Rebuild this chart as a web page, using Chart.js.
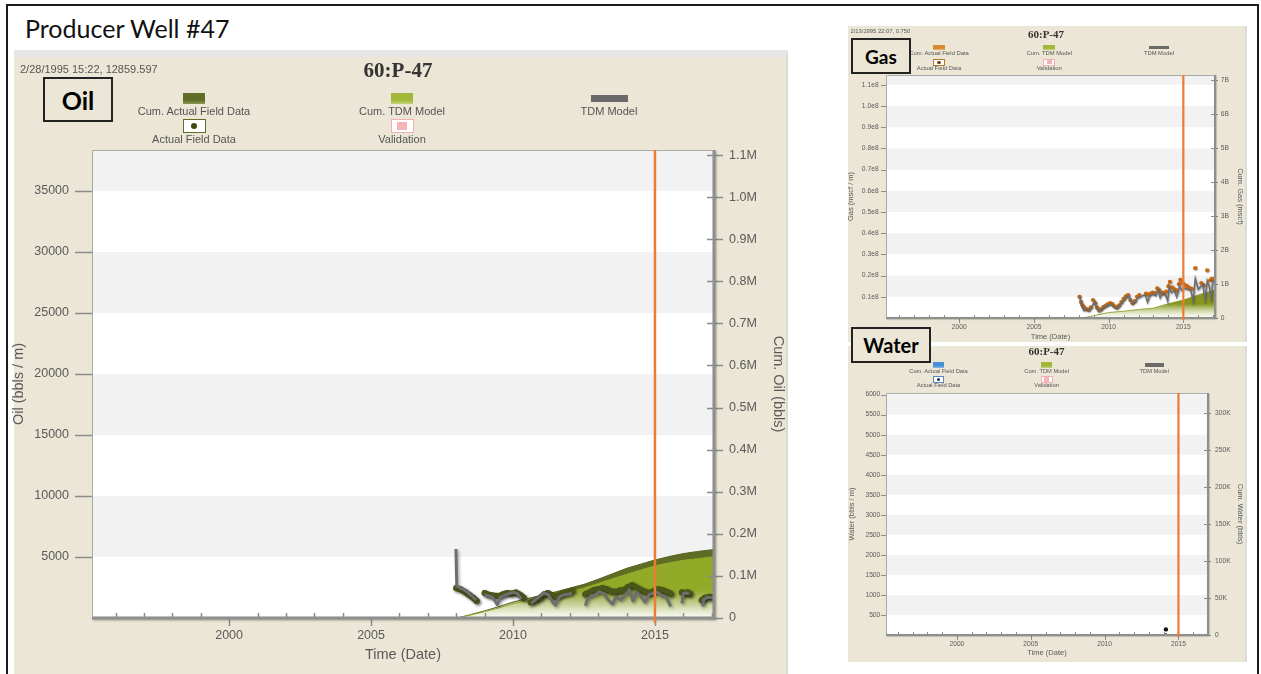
<!DOCTYPE html>
<html>
<head>
<meta charset="utf-8">
<title>Producer Well #47</title>
<script src="https://cdn.jsdelivr.net/npm/chart.js@4.4.1/dist/chart.umd.min.js"></script>
<style>
  html, body { margin: 0; padding: 0; background: #fff; }
  body { position: relative; width: 1261px; height: 674px; overflow: hidden; font-family: "Liberation Sans", Arial, sans-serif; }
  .abs { position: absolute; }
  #frame { left: 6px; top: 4px; width: 1253px; height: 720px; border: 2px solid #1c1c1c; box-sizing: border-box; }
  #pageTitle { left: 25px; top: 11px; font: 25px/34px Lato, "Open Sans", sans-serif; color: #111; white-space: nowrap; }
  .panel { background: #ebe6d5; }
  #oilPanel { left: 14px; top: 50px; width: 772px; height: 640px; border-top: 7px solid #e6e6e6; border-right: 2px solid #d9d9d9; }
  #gasPanel { left: 848px; top: 26px; width: 397px; height: 316px; border-right: 2px solid #dcdcdc; }
  #waterPanel { left: 848px; top: 346px; width: 397px; height: 316px; border-right: 2px solid #dcdcdc; }
  .tag { box-sizing: border-box; border: 2px solid #222; background: #ebe6d5; font-family: Lato, "Open Sans", sans-serif; font-weight: 700; color: #000; display: flex; align-items: center; justify-content: center; }
  .lg-text { white-space: nowrap; color: #555; transform: translate(-50%, -50%); line-height: 1; }
  .stamp { white-space: nowrap; color: #555; line-height: 1; transform: translateY(-50%); }
  .ptitle { white-space: nowrap; color: #333; font-family: "Liberation Serif", "DejaVu Serif", serif; font-weight: 700; transform: translate(-50%, -50%); line-height: 1; }
</style>
</head>
<body>
<div id="frame" class="abs"></div>
<div id="pageTitle" class="abs">Producer Well #47</div>
<div id="oilPanel" class="abs panel"></div>
<div id="gasPanel" class="abs panel"></div>
<div id="waterPanel" class="abs panel"></div>
<canvas id="oilChart" class="abs" width="782" height="622" style="left:8px;top:52px;width:782px;height:622px"></canvas>
<canvas id="gasChart" class="abs" width="401" height="317" style="left:846px;top:26px;width:401px;height:317px"></canvas>
<canvas id="waterChart" class="abs" width="401" height="316" style="left:846px;top:346px;width:401px;height:316px"></canvas>

<script>
// ---------- shared time axis ----------
const yearTicks = [2000, 2005, 2010, 2015];
const yearTickLabels = ['2000', '2005', '2010', '2015'];
const forecastStart = 2015.0;

// ---------- Oil: monthly rate (bbls / m) ----------
const oilActualDates = [2008.00, 2008.15, 2008.30, 2008.45, 2008.60, 2008.72, 2008.85,
  2009.00, 2009.15, 2009.30, 2009.50, 2009.65, 2009.80, 2009.95, 2010.10, 2010.25, 2010.38, 2010.50,
  2010.62, 2010.80, 2010.95, 2011.10, 2011.22, 2011.38, 2011.50, 2011.65, 2011.80, 2011.95, 2012.08, 2012.30,
  2012.55, 2012.70, 2012.85, 2013.00, 2013.15, 2013.30, 2013.45, 2013.60, 2013.75, 2013.90, 2014.05, 2014.20,
  2014.35, 2014.50, 2014.65, 2014.80, 2014.95, 2015.10, 2015.25, 2015.40, 2015.55, 2015.75,
  2015.95, 2016.05, 2016.15, 2016.22, 2016.45, 2016.65, 2016.75, 2016.90, 2017.05];
const oilActualRate = [2450, 2350, 2150, 1900, 1650, 1400, null,
  2050, 1900, 1850, 1800, 1950, 2050, 2000, 2100, 1900, 1650, null,
  1300, 1450, 1650, 1950, 2050, 1850, 1750, 1900, 2050, 2150, 2250, null,
  1950, 2100, 2300, 2350, 2450, 2350, 2200, 2150, 2250, 2300, 2550, 2700,
  2500, 2300, 2150, 2050, 2200, 2350, 2300, 2150, 2000, null,
  2100, 2050, 2100, 2000, null, 1450, 1650, 1750, 1700];

const oilModelDates = [2007.99, 2008.02, 2008.15, 2008.28, 2008.40, 2008.55, 2008.70, 2008.85,
  2009.00, 2009.15, 2009.30, 2009.45, 2009.55, 2009.70, 2009.85, 2010.00, 2010.15, 2010.30, 2010.50,
  2010.65, 2010.80, 2010.95, 2011.10, 2011.25, 2011.40, 2011.50, 2011.62, 2011.80, 2011.95, 2012.08, 2012.30,
  2012.55, 2012.62, 2012.75, 2012.90, 2013.05, 2013.20, 2013.35, 2013.50, 2013.62, 2013.80, 2013.95,
  2014.10, 2014.22, 2014.35, 2014.50, 2014.65, 2014.78, 2014.95, 2015.10, 2015.25, 2015.40, 2015.55, 2015.75,
  2015.95, 2016.00, 2016.10, 2016.20, 2016.45, 2016.68, 2016.72, 2016.85, 2017.05];
const oilModelRate = [5650, 2600, 2450, 2300, 2100, 1800, 1450, null,
  1900, 1800, 1650, 1100, 1700, 1850, 2000, 2100, 2000, 1550, null,
  1200, 1500, 1800, 2050, 1900, 1300, 1050, 1700, 1900, 1950, 2000, null,
  1000, 1550, 1800, 1900, 2150, 2000, 1500, 1150, 1700, 1500, 1900,
  2300, 1400, 2150, 1800, 1300, 1900, 2050, 2100, 1800, 1700, 950, null,
  1200, 2000, 2050, 1950, null, 950, 1500, 1700, 1650];

// ---------- Oil: cumulative (bbls) ----------
const oilCumDates = [2008.05, 2008.5, 2009, 2009.5, 2010, 2010.5, 2011, 2011.5, 2012, 2012.5,
  2013, 2013.5, 2014, 2014.5, 2015, 2015.5, 2016, 2016.5, 2017.1];
const oilCumActual = [0, 8000, 17000, 27000, 38000, 46000, 54000, 62000, 71000, 80000,
  92000, 105000, 118000, 128000, 138000, 146000, 153000, 158000, 163000];
const oilCumModel = [0, 7000, 15000, 24000, 34000, 41000, 48000, 55000, 63000, 71000,
  82000, 93000, 104000, 114000, 124000, 131000, 137000, 141000, 146000];

const oilRateTicks = [5000, 10000, 15000, 20000, 25000, 30000, 35000];
const oilRateTickLabels = ['5000', '10000', '15000', '20000', '25000', '30000', '35000'];
const oilCumTicks = [0, 100000, 200000, 300000, 400000, 500000, 600000, 700000, 800000, 900000, 1000000, 1100000];
const oilCumTickLabels = ['0', '0.1M', '0.2M', '0.3M', '0.4M', '0.5M', '0.6M', '0.7M', '0.8M', '0.9M', '1.0M', '1.1M'];

// ---------- Gas: monthly rate (mscf / m) ----------
const gasActualDates = [2008.05, 2008.15, 2008.25, 2008.35, 2008.50, 2008.65, 2008.80, 2008.95,
  2009.10, 2009.22, 2009.35, 2009.50, 2009.65, 2009.80, 2009.95, 2010.10, 2010.25, 2010.40, 2010.55,
  2010.70, 2010.85, 2011.00, 2011.15, 2011.30, 2011.45, 2011.60, 2011.75, 2011.90, 2012.05,
  2012.50, 2012.65, 2012.80, 2012.95, 2013.10, 2013.25, 2013.40, 2013.55, 2013.70, 2013.85,
  2014.00, 2014.10, 2014.25, 2014.40, 2014.55, 2014.70, 2014.80, 2014.95, 2015.10, 2015.25,
  2015.40, 2015.55, 2015.80, 2016.20, 2016.35, 2016.60, 2016.80, 2016.90, 2017.00];
const gasActualRate = [1.00e7, 0.75e7, 0.60e7, 0.50e7, 0.42e7, 0.38e7, 0.50e7, 0.85e7,
  0.70e7, 0.50e7, 0.38e7, 0.42e7, 0.52e7, 0.58e7, 0.65e7, 0.70e7, 0.66e7, 0.55e7, 0.50e7,
  0.60e7, 0.75e7, 0.90e7, 1.02e7, 1.08e7, 0.85e7, 0.70e7, 0.80e7, 1.00e7, 1.08e7,
  1.15e7, 1.10e7, 1.15e7, 1.20e7, 1.18e7, 1.40e7, 1.30e7, 1.20e7, 1.15e7, 1.25e7,
  1.50e7, 1.70e7, 1.45e7, 1.35e7, 1.30e7, 1.60e7, 1.80e7, 1.65e7, 1.55e7, 1.50e7,
  1.42e7, 1.38e7, 2.35e7, 1.65e7, 1.55e7, 2.25e7, 1.78e7, 1.85e7, 1.85e7];
const gasModelDates = [2008.05, 2008.20, 2008.35, 2008.50, 2008.70, 2008.90, 2009.05, 2009.20,
  2009.35, 2009.55, 2009.75, 2009.95, 2010.15, 2010.35, 2010.55, 2010.75, 2010.95, 2011.15,
  2011.35, 2011.55, 2011.75, 2011.95, 2012.10, 2012.45, 2012.60, 2012.75, 2012.95, 2013.15,
  2013.30, 2013.45, 2013.60, 2013.80, 2013.95, 2014.05, 2014.20, 2014.40, 2014.55, 2014.75,
  2014.90, 2015.05, 2015.30, 2015.50, 2015.65, 2015.80, 2016.00, 2016.30, 2016.45, 2016.60,
  2016.75, 2016.85, 2016.95, 2017.05];
const gasModelRate = [1.05e7, 0.55e7, 0.35e7, 0.45e7, 0.35e7, 0.55e7, 0.80e7, 0.45e7,
  0.30e7, 0.45e7, 0.55e7, 0.60e7, 0.65e7, 0.52e7, 0.45e7, 0.62e7, 0.80e7, 0.95e7,
  1.05e7, 0.70e7, 0.75e7, 0.95e7, 1.00e7, 1.10e7, 0.75e7, 1.05e7, 1.15e7, 1.05e7,
  1.35e7, 0.95e7, 1.20e7, 1.10e7, 0.80e7, 1.45e7, 1.20e7, 1.30e7, 1.00e7, 1.50e7,
  1.30e7, 1.40e7, 1.35e7, 1.30e7, 0.80e7, 1.85e7, 1.35e7, 1.60e7, 0.90e7, 1.75e7,
  1.45e7, 0.80e7, 1.60e7, 1.80e7];

// ---------- Gas: cumulative (mscf) ----------
const gasCumDates = [2008.3, 2009, 2010, 2011, 2012, 2013, 2014, 2015, 2016, 2017.1];
const gasCumModel = [0, 0.07e9, 0.16e9, 0.20e9, 0.25e9, 0.29e9, 0.42e9, 0.53e9, 0.68e9, 0.82e9];

const gasRateTicks = [1e7, 2e7, 3e7, 4e7, 5e7, 6e7, 7e7, 8e7, 9e7, 10e7, 11e7];
const gasRateTickLabels = ['0.1e8', '0.2e8', '0.3e8', '0.4e8', '0.5e8', '0.6e8', '0.7e8', '0.8e8', '0.9e8', '1.0e8', '1.1e8'];
const gasCumTicks = [0, 1e9, 2e9, 3e9, 4e9, 5e9, 6e9, 7e9];
const gasCumTickLabels = ['0', '1B', '2B', '3B', '4B', '5B', '6B', '7B'];

// ---------- Water ----------
const waterActualDates = [2014.15];
const waterActualRate = [140];
const waterCumDates = [2014.15];
const waterCumActual = [1200];

const waterRateTicks = [500, 1000, 1500, 2000, 2500, 3000, 3500, 4000, 4500, 5000, 5500, 6000];
const waterRateTickLabels = ['500', '1000', '1500', '2000', '2500', '3000', '3500', '4000', '4500', '5000', '5500', '6000'];
const waterCumTicks = [0, 50000, 100000, 150000, 200000, 250000, 300000];
const waterCumTickLabels = ['0', '50K', '100K', '150K', '200K', '250K', '300K'];

// ---------- helpers ----------
const textGrey = '#5a5a5a';
const fontFamily = '"Liberation Sans", Arial, sans-serif';
const pts = (dates, vals) => dates.map((d, i) => ({ x: d, y: vals[i] }));
const fixedTicks = values => scale => { scale.ticks = values.map(v => ({ value: v })); };
const labelsFrom = labels => (v, i) => labels[i];
const fade = (color, depth) => ctx => {
  const ca = ctx.chart.chartArea;
  if (!ca) return color;
  const g = ctx.chart.ctx.createLinearGradient(0, ca.bottom - depth, 0, ca.bottom);
  g.addColorStop(0, color);
  g.addColorStop(1, 'rgba(250,252,240,0.4)');
  return g;
};

// Plot-area decoration: alternating bands, frame, tick marks, forecast marker
const wellFrame = {
  id: 'wellFrame',
  beforeDatasetsDraw(chart, _args, o) {
    const { ctx, chartArea: ca } = chart;
    const ys = chart.scales.y;
    const stops = [ys.min].concat(o.bands, [ys.max]);
    ctx.save();
    ctx.fillStyle = '#ffffff';
    ctx.fillRect(ca.left, ca.top, ca.right - ca.left, ca.bottom - ca.top);
    ctx.fillStyle = '#f2f2f2';
    for (let i = 1; i + 1 < stops.length; i += 2) {
      const yHi = ys.getPixelForValue(stops[i + 1]);
      const yLo = ys.getPixelForValue(stops[i]);
      ctx.fillRect(ca.left, yHi, ca.right - ca.left, yLo - yHi);
    }
    ctx.restore();
  },
  beforeDatasetDraw(chart, args, o) {
    const ctx = chart.ctx;
    ctx.save();
    if (chart.data.datasets[args.index].shadow) {
      ctx.shadowColor = 'rgba(0,0,0,0.35)';
      ctx.shadowBlur = 3 * o.s;
      ctx.shadowOffsetX = 1.5 * o.s;
      ctx.shadowOffsetY = 1.5 * o.s;
    }
  },
  afterDatasetDraw(chart) {
    chart.ctx.restore();
  },
  afterDatasetsDraw(chart, _args, o) {
    const { ctx, chartArea: ca, scales } = chart;
    const s = o.s;
    ctx.save();
    ctx.strokeStyle = '#a9a9a9';
    ctx.lineWidth = 1;
    ctx.beginPath();
    ctx.moveTo(ca.left + 0.5, ca.bottom);
    ctx.lineTo(ca.left + 0.5, ca.top + 0.5);
    ctx.lineTo(ca.right, ca.top + 0.5);
    ctx.stroke();

    ctx.strokeStyle = '#8c8c8c';
    ctx.lineWidth = o.tickW;
    ctx.beginPath();
    o.bands.forEach(v => {
      const y = Math.round(scales.y.getPixelForValue(v)) + 0.5;
      ctx.moveTo(ca.left - o.leftOut, y);
      ctx.lineTo(ca.left, y);
    });
    o.rightTicks.forEach(v => {
      const y = Math.round(scales.y2.getPixelForValue(v)) + 0.5;
      ctx.moveTo(ca.right - o.rightIn, y);
      ctx.lineTo(ca.right + o.rightOut, y);
    });
    for (let yr = Math.ceil(scales.x.min); yr <= scales.x.max; yr++) {
      const x = Math.round(scales.x.getPixelForValue(yr)) + 0.5;
      if (yearTicks.includes(yr)) {
        ctx.moveTo(x, ca.bottom);
        ctx.lineTo(x, ca.bottom + o.majorLen);
      } else {
        ctx.moveTo(x, ca.bottom - o.minorLen);
        ctx.lineTo(x, ca.bottom);
      }
    }
    ctx.stroke();

    ctx.shadowColor = 'rgba(0,0,0,0.3)';
    ctx.shadowBlur = 2 * s;
    ctx.shadowOffsetX = 1 * s;
    ctx.shadowOffsetY = 1 * s;
    ctx.strokeStyle = '#8f8f8f';
    ctx.lineWidth = o.axisW;
    ctx.beginPath();
    ctx.moveTo(ca.left, ca.bottom);
    ctx.lineTo(ca.right, ca.bottom);
    ctx.lineTo(ca.right, ca.top);
    ctx.stroke();
    ctx.restore();

    ctx.save();
    const fx = scales.x.getPixelForValue(forecastStart);
    ctx.strokeStyle = '#ec7b33';
    ctx.lineWidth = o.forecastW;
    ctx.beginPath();
    ctx.moveTo(fx, ca.top);
    ctx.lineTo(fx, ca.bottom + o.forecastExt);
    ctx.stroke();
    ctx.restore();
  }
};

function wellChart(id, g) {
  const font = size => ({ family: fontFamily, size: size });
  const axisTitle = (text, pad) => ({ display: true, text: text, color: textGrey, font: font(g.titleSize), padding: pad });
  const noGrid = { display: false, drawTicks: false };
  return new Chart(document.getElementById(id), {
    type: 'line',
    data: { datasets: g.datasets },
    options: {
      responsive: false,
      animation: false,
      events: [],
      layout: { padding: { top: g.area.top, left: 0, right: 0, bottom: 0 } },
      elements: { line: { tension: 0 } },
      plugins: { legend: { display: false }, tooltip: { enabled: false }, wellFrame: g.frame },
      scales: {
        x: {
          type: 'linear', position: 'bottom', min: g.xMin, max: g.xMax,
          afterBuildTicks: fixedTicks(yearTicks),
          afterFit: sc => { sc.height = g.area.xH; },
          grid: noGrid, border: { display: false },
          ticks: { autoSkip: false, maxRotation: 0, padding: g.pad.x, color: textGrey, font: font(g.tickSize), callback: labelsFrom(yearTickLabels) },
          title: axisTitle('Time (Date)', { top: 0, bottom: g.titlePad.x })
        },
        y: {
          type: 'linear', position: 'left', min: 0, max: g.leftMax,
          afterBuildTicks: fixedTicks(g.leftTicks),
          afterFit: sc => { sc.width = g.area.leftW; },
          grid: noGrid, border: { display: false },
          ticks: { padding: g.pad.left, color: textGrey, font: font(g.tickSize), callback: labelsFrom(g.leftLabels) },
          title: axisTitle(g.leftTitle, { top: g.titlePad.left, bottom: 0 })
        },
        y2: {
          type: 'linear', position: 'right', min: 0, max: g.rightMax,
          afterBuildTicks: fixedTicks(g.rightTicks),
          afterFit: sc => { sc.width = g.area.rightW; },
          grid: noGrid, border: { display: false },
          ticks: { padding: g.pad.right, color: textGrey, font: font(g.tickSize), callback: labelsFrom(g.rightLabels) },
          title: axisTitle(g.rightTitle, { top: g.titlePad.right, bottom: 0 })
        }
      }
    },
    plugins: [wellFrame]
  });
}

// ---------- Oil chart ----------
wellChart('oilChart', {
  xMin: 1995.17, xMax: 2017.08, leftMax: 38360, rightMax: 1112000,
  area: { top: 98, leftW: 84, rightW: 76, xH: 56 },
  pad: { x: 10.5, left: 23, right: 15 },
  titlePad: { x: 10.5, left: 2.3, right: 3.3 },
  tickSize: 12.5, titleSize: 14.5,
  leftTicks: oilRateTicks, leftLabels: oilRateTickLabels, leftTitle: 'Oil (bbls / m)',
  rightTicks: oilCumTicks, rightLabels: oilCumTickLabels, rightTitle: 'Cum. Oil (bbls)',
  frame: { s: 1, bands: oilRateTicks, rightTicks: oilCumTicks, leftOut: 17, rightIn: 7, rightOut: 9,
           majorLen: 8, minorLen: 5, tickW: 1.5, axisW: 3, forecastW: 2.5, forecastExt: 5 },
  datasets: [
    { label: 'TDM Model', data: pts(oilModelDates, oilModelRate), yAxisID: 'y', borderColor: '#6e6e6e',
      borderWidth: 3, pointRadius: 0, spanGaps: false, order: 0, shadow: true, borderJoinStyle: 'round' },
    { label: 'Actual Field Data', data: pts(oilActualDates, oilActualRate), yAxisID: 'y', borderColor: '#4b581c',
      backgroundColor: '#4b581c', borderWidth: 6, pointRadius: 3, pointBorderWidth: 0, spanGaps: false,
      order: 1, shadow: true, borderCapStyle: 'round', borderJoinStyle: 'round' },
    { label: 'Cum. TDM Model', data: pts(oilCumDates, oilCumModel), yAxisID: 'y2', fill: 'origin',
      backgroundColor: fade('#93a928', 28), borderColor: '#93a928', borderWidth: 1, pointRadius: 0, order: 2 },
    { label: 'Cum. Actual Field Data', data: pts(oilCumDates, oilCumActual), yAxisID: 'y2', fill: 'origin',
      backgroundColor: fade('#5f6d24', 28), borderColor: '#56631f', borderWidth: 1, pointRadius: 0, order: 3 }
  ]
});

// ---------- Gas chart ----------
wellChart('gasChart', {
  xMin: 1995.1, xMax: 2017.12, leftMax: 1.146e8, rightMax: 7.15e9,
  area: { top: 49, leftW: 40, rightW: 32, xH: 25 },
  pad: { x: 5, left: 7.4, right: 5.7 },
  titlePad: { x: 1.5, left: 0.5, right: 2.5 },
  tickSize: 6.7, titleSize: 7.5,
  leftTicks: gasRateTicks, leftLabels: gasRateTickLabels, leftTitle: 'Gas (mscf / m)',
  rightTicks: gasCumTicks, rightLabels: gasCumTickLabels, rightTitle: 'Cum. Gas (mscf)',
  frame: { s: 0.53, bands: gasRateTicks, rightTicks: gasCumTicks, leftOut: 5, rightIn: 4, rightOut: 3,
           majorLen: 5, minorLen: 3, tickW: 1, axisW: 2, forecastW: 2.2, forecastExt: 2 },
  datasets: [
    { label: 'TDM Model', data: pts(gasModelDates, gasModelRate), yAxisID: 'y', borderColor: '#6e6e6e',
      borderWidth: 1.6, pointRadius: 0, spanGaps: false, order: 0, shadow: true },
    { label: 'Actual Field Data', data: pts(gasActualDates, gasActualRate), yAxisID: 'y', showLine: false,
      backgroundColor: '#c8680f', pointRadius: 2.1, pointBorderWidth: 0, order: 1, shadow: true },
    { label: 'Cum. TDM Model', data: pts(gasCumDates, gasCumModel), yAxisID: 'y2', fill: 'origin',
      backgroundColor: fade('#86961f', 14), borderColor: '#86961f', borderWidth: 0.8, pointRadius: 0, order: 2 }
  ]
});

// ---------- Water chart ----------
wellChart('waterChart', {
  xMin: 1995.2, xMax: 2017.0, leftMax: 6040, rightMax: 327000,
  area: { top: 47, leftW: 40, rightW: 39, xH: 27 },
  pad: { x: 5, left: 5.7, right: 7 },
  titlePad: { x: 4.8, left: 1.5, right: 2.5 },
  tickSize: 6.7, titleSize: 7.5,
  leftTicks: waterRateTicks, leftLabels: waterRateTickLabels, leftTitle: 'Water (bbls / m)',
  rightTicks: waterCumTicks, rightLabels: waterCumTickLabels, rightTitle: 'Cum. Water (bbls)',
  frame: { s: 0.53, bands: waterRateTicks, rightTicks: waterCumTicks, leftOut: 5, rightIn: 4, rightOut: 3,
           majorLen: 5, minorLen: 3, tickW: 1, axisW: 2, forecastW: 2.2, forecastExt: 2 },
  datasets: [
    { label: 'Actual Field Data', data: pts(waterActualDates, waterActualRate), yAxisID: 'y', showLine: false,
      backgroundColor: '#111111', pointRadius: 2.2, pointBorderWidth: 0, order: 0 },
    { label: 'Cum. Actual Field Data', data: pts(waterCumDates, waterCumActual), yAxisID: 'y2', showLine: false,
      backgroundColor: '#4a86d0', pointStyle: 'rect', pointRadius: 1.6, pointBorderWidth: 0, order: 1 }
  ]
});

// ---------- legends, headers, panel tags ----------
function el(cls, css, text) {
  const d = document.createElement('div');
  d.className = 'abs ' + cls;
  Object.assign(d.style, css);
  if (text !== undefined) d.textContent = text;
  document.body.appendChild(d);
  return d;
}
function box(cx, cy, w, h, css) {
  return el('', Object.assign({ left: (cx - w / 2) + 'px', top: (cy - h / 2) + 'px', width: w + 'px', height: h + 'px', boxSizing: 'border-box' }, css));
}
function label(cx, cy, text, size) {
  el('lg-text', { left: cx + 'px', top: cy + 'px', fontSize: size + 'px' }, text);
}
function inner(parent, w, h, css) {
  const d = document.createElement('div');
  Object.assign(d.style, { position: 'absolute', left: '50%', top: '50%', width: w + 'px', height: h + 'px',
    marginLeft: (-w / 2) + 'px', marginTop: (-h / 2) + 'px' }, css);
  parent.appendChild(d);
}
function legend(cx0, y0, s, c) {
  const col = [cx0, cx0 + 208 * s, cx0 + 415 * s];
  const row = [y0, y0 + 13 * s, y0 + 28 * s, y0 + 41 * s];
  const fs = 11 * s;
  box(col[0], row[0], 22 * s, 11 * s, { background: 'linear-gradient(' + c.cumActual + ' 65%, ' + c.cumActualLight + ')' });
  label(col[0], row[1], 'Cum. Actual Field Data', fs);
  box(col[1], row[0], 22 * s, 11 * s, { background: 'linear-gradient(#a3b83a 65%, #c3d27a)' });
  label(col[1], row[1], 'Cum. TDM Model', fs);
  box(col[2], row[0], 37 * s, 7 * s, { background: '#6a6a6a' });
  label(col[2], row[1], 'TDM Model', fs);
  const a = box(col[0], row[2], 23 * s, 14 * s, { background: '#fff', border: (1.5 * s) + 'px solid ' + c.boxBorder });
  inner(a, 6 * s, 6 * s, { borderRadius: '50%', background: c.dot });
  label(col[0], row[3], 'Actual Field Data', fs);
  const v = box(col[1], row[2], 23 * s, 14 * s, { background: '#fff', border: (1.5 * s) + 'px solid #f3b0b2' });
  inner(v, 10 * s, 8 * s, { background: '#f6b3b6' });
  label(col[1], row[3], 'Validation', fs);
}

legend(194, 98, 1, { cumActual: '#5f6d28', cumActualLight: '#8a9858', boxBorder: '#5f6d28', dot: '#3e4a12' });
legend(939, 47.5, 0.53, { cumActual: '#d58a2e', cumActualLight: '#e9b777', boxBorder: '#b8792a', dot: '#7a4510' });
legend(938.5, 365, 0.52, { cumActual: '#4a90d9', cumActualLight: '#8dbbea', boxBorder: '#5b86b8', dot: '#1a2a4a' });

el('stamp', { left: '20px', top: '68.5px', fontSize: '11px' }, '2/28/1995 15:22, 12859.597');
el('stamp', { left: '850.5px', top: '32.3px', fontSize: '5.8px' }, '2/13/1995 22:07, 0.750');

el('ptitle', { left: '398px', top: '70px', fontSize: '21px' }, '60:P-47');
el('ptitle', { left: '1046px', top: '33.5px', fontSize: '11px' }, '60:P-47');
el('ptitle', { left: '1046.5px', top: '351px', fontSize: '11px' }, '60:P-47');

el('tag', { left: '43px', top: '77px', width: '70px', height: '45px', fontSize: '25px' }, 'Oil');
el('tag', { left: '851px', top: '38px', width: '60px', height: '36px', fontSize: '19px' }, 'Gas');
el('tag', { left: '851px', top: '327px', width: '80px', height: '36px', fontSize: '20px' }, 'Water');
</script>
</body>
</html>
